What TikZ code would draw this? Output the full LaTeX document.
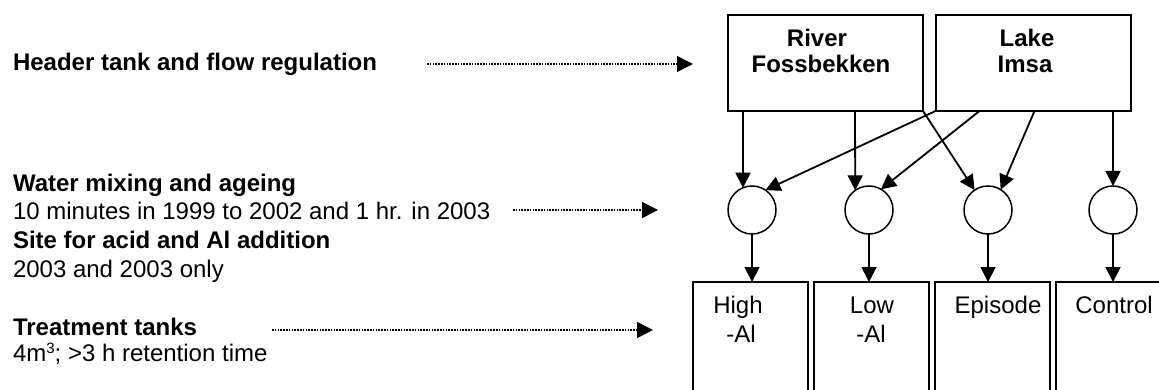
\documentclass[tikz,border=0pt]{standalone}
\usepackage{fontspec}
\setmainfont{Liberation Sans}
\usetikzlibrary{arrows.meta,calc}
\begin{document}
\begin{tikzpicture}[x=1pt,y=-1pt,
  every node/.style={inner sep=0pt, outer sep=0pt},
  lbl/.style={anchor=base west, font=\fontsize{24}{28}\selectfont},
  lblb/.style={anchor=base west, font=\fontsize{24}{28}\selectfont\bfseries},
  srcbox/.style={draw, line width=2pt, minimum width=195pt, minimum height=96pt},
  srctxt/.style={anchor=base, font=\fontsize{24}{28}\selectfont\bfseries},
  tank/.style={draw, line width=2pt, minimum width=115pt, minimum height=140pt, anchor=north},
  tanktxt/.style={anchor=base, font=\fontsize{24}{28}\selectfont},
  mix/.style={draw, circle, line width=1.5pt, minimum size=48pt},
  flow/.style={line width=1.8pt, -{Triangle[length=15pt,width=15pt]}},
  guide/.style={line width=1.5pt, dash pattern=on 1.5pt off 1.3pt, -{Triangle[length=16pt,width=16pt]}}
]
\useasboundingbox (0,0) rectangle (1159,390);
\clip (0,0) rectangle (1159,390);

% left labels
\node[lblb] (hdr) at (13,71) {Header tank and flow regulation};
\node[lblb] (mixa) at (13,192) {Water mixing and ageing};
\node[lbl]  (mixb) at (13,220) {10 minutes in 1999 to 2002 and 1 hr. in 2003};
\node[lblb] (site) at (13,248) {Site for acid and Al addition};
\node[lbl]  (siteb) at (13,277) {2003 and 2003 only};
\node[lblb] (trt) at (13,335) {Treatment tanks};
\node[lbl]  (trtb) at (13,361) {4m{\fontsize{15}{15}\selectfont\raisebox{8pt}{3}}; >3 h retention time};

% guide arrows
\coordinate (g1s) at (427,64);  \coordinate (g1e) at (693,64);
\coordinate (g2s) at (513,210); \coordinate (g2e) at (658,210);
\coordinate (g3s) at (272,330); \coordinate (g3e) at (653,330);
\draw[guide] (g1s) -- (g1e);
\draw[guide] (g2s) -- (g2e);
\draw[guide] (g3s) -- (g3e);

% sources
\node[srcbox] (river) at (825.5,63) {};
\node[srcbox] (lake) at (1033,63) {};
\node[srctxt] (rivert1) at (817,47) {River};
\node[srctxt] (rivert2) at (821,73) {Fossbekken};
\node[srctxt] (laket1) at (1027,47) {Lake};
\node[srctxt] (laket2) at (1025,73) {Imsa};

% mixing circles
\node[mix] (c1) at (752,210) {};
\node[mix] (c2) at (869,210) {};
\node[mix] (c3) at (988,210) {};
\node[mix] (c4) at (1113,210) {};

% tanks
\node[tank] (t1) at (750.5,282) {};
\node[tank] (t2) at (871.5,282) {};
\node[tank] (t3) at (992.5,282) {};
\node[tank] (t4) at (1113.5,282) {};
\node[tanktxt] (t1a) at (738,313) {High};
\node[tanktxt] (t1b) at (741,342) {-Al};
\node[tanktxt] (t2a) at (872,313) {Low};
\node[tanktxt] (t2b) at (871,342) {-Al};
\node[tanktxt] (t3a) at (998,313) {Episode};
\node[tanktxt] (t4a) at (1114,313) {Control};

% flows from sources
\draw[flow] ([xshift=15pt]river.south west) -- (c1.112);
\draw[flow] ([xshift=127pt]river.south west) -- (c2.125);
\draw[flow] (river.south east) -- (c3.124);
\draw[flow] (lake.south west) -- (c1.56);
\draw[flow] ([xshift=44pt]lake.south west) -- (c2.60);
\draw[flow] ([xshift=99pt]lake.south west) -- (c3.58);
\draw[flow] (c4.north |- lake.south) -- (c4.north);

% flows to tanks
\draw[flow] (c1.south) -- (c1.south |- t1.north);
\draw[flow] (c2.south) -- (c2.south |- t2.north);
\draw[flow] (c3.south) -- (c3.south |- t3.north);
\draw[flow] (c4.south) -- (c4.south |- t4.north);
\end{tikzpicture}
\end{document}
